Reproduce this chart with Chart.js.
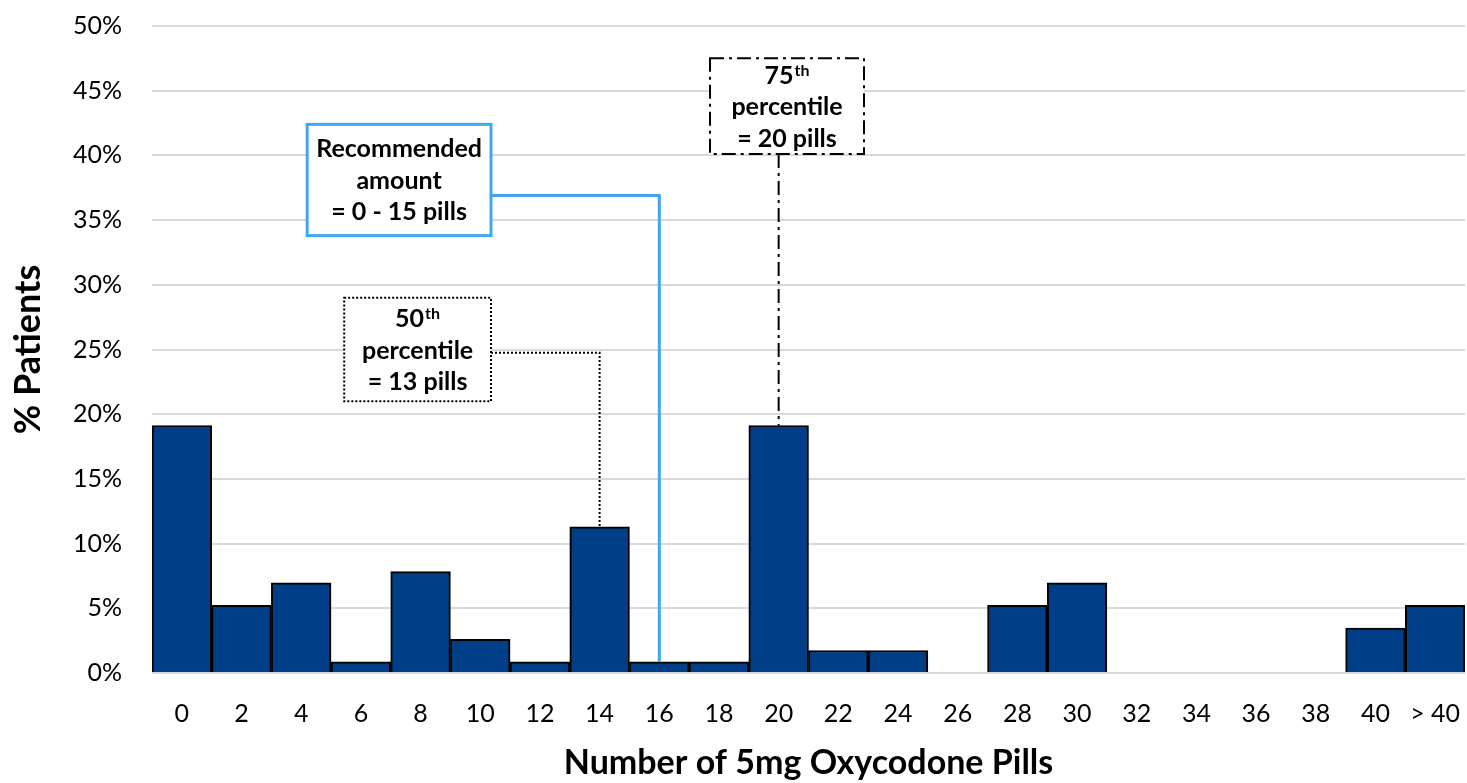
<!DOCTYPE html>
<html>
<head>
<meta charset="utf-8">
<script src="https://cdn.jsdelivr.net/npm/chart.js@4.4.1/dist/chart.umd.min.js"></script>
<style>
  html, body { margin: 0; padding: 0; background: #fff; }
  #wrap { width: 1467px; height: 783px; position: relative; }
</style>
</head>
<body>
<div id="wrap"><canvas id="hist"></canvas></div>
<script>
// Pills prescribed (bins of 2) vs share of patients.
const categories = ["0", "2", "4", "6", "8", "10", "12", "14", "16", "18", "20",
                    "22", "24", "26", "28", "30", "32", "34", "36", "38", "40", "> 40"];
const patientPct = [19.13, 5.22, 6.96, 0.87, 7.83, 2.61, 0.87, 11.30, 0.87, 0.87, 19.13,
                    1.74, 1.74, 0, 5.22, 6.96, 0, 0, 0, 0, 3.48, 5.22];
const yMax = 50, yStep = 5;
const xTitle = "Number of 5mg Oxycodone Pills";
const yTitle = "% Patients";

// Callout texts: each line is [main, superscript]
const calloutText = [
  [["Recommended", ""], ["amount", ""], ["= 0 - 15 pills", ""]],
  [["50", "th"], ["percentile", ""], ["= 13 pills", ""]],
  [["75", "th"], ["percentile", ""], ["= 20 pills", ""]],
];

// Where the callouts sit, in axis units (x = category index, y = %), and how they look.
const calloutLayout = [
  { box: [2.1, 5.18, 42.4, 33.8], leaderY: 36.9, target: 8, color: "#41A6EE", width: 3, dash: [] },
  { box: [2.72, 5.18, 29.0, 21.0], leaderY: 24.75, target: 7, color: "#000", width: 2, dash: [2, 2] },
  { box: [8.85, 11.43, 47.5, 40.1], leaderY: null, target: 10, color: "#000", width: 2, dash: [14, 5, 3, 5] },
];

const FONT = "Lato";

const callouts = {
  id: "callouts",
  afterDatasetsDraw(chart) {
    const { ctx, scales: { x, y } } = chart;
    calloutLayout.forEach((c, i) => {
      const x0 = x.getPixelForValue(c.box[0]), x1 = x.getPixelForValue(c.box[1]);
      const y0 = y.getPixelForValue(c.box[2]), y1 = y.getPixelForValue(c.box[3]);
      const tx = x.getPixelForValue(c.target);
      const ty = y.getPixelForValue(patientPct[c.target]);

      ctx.save();
      ctx.strokeStyle = c.color;
      ctx.lineWidth = c.width;
      ctx.setLineDash(c.dash);
      ctx.beginPath();
      if (c.leaderY != null) {
        const ly = y.getPixelForValue(c.leaderY);
        ctx.moveTo(x1, ly);
        ctx.lineTo(tx, ly);
        ctx.lineTo(tx, ty);
      } else {
        ctx.moveTo(tx, y1);
        ctx.lineTo(tx, ty);
      }
      ctx.stroke();

      ctx.fillStyle = "#fff";
      ctx.fillRect(x0, y0, x1 - x0, y1 - y0);
      ctx.strokeRect(x0, y0, x1 - x0, y1 - y0);

      // text, centred in the box
      ctx.setLineDash([]);
      ctx.fillStyle = "#000";
      ctx.textBaseline = "alphabetic";
      ctx.textAlign = "left";
      const cx = (x0 + x1) / 2, cy = (y0 + y1) / 2;
      calloutText[i].forEach(([main, sup], k) => {
        const by = cy + 9 + (k - 1) * 31.5;
        ctx.font = `bold 25px ${FONT}`;
        const wm = ctx.measureText(main).width;
        ctx.font = `bold 16px ${FONT}`;
        const ws = sup ? ctx.measureText(sup).width + 1 : 0;
        const sx = cx - (wm + ws) / 2;
        ctx.font = `bold 25px ${FONT}`;
        ctx.fillText(main, sx, by);
        if (sup) {
          ctx.font = `bold 16px ${FONT}`;
          ctx.fillText(sup, sx + wm + 1, by - 8);
        }
      });
      ctx.restore();
    });
  }
};

// keep the plot area fixed: no extra room for overhanging tick labels
const noOverhang = s => { s.paddingLeft = 0; s.paddingRight = 0; s.paddingTop = 0; s.paddingBottom = 0; };

new Chart(document.getElementById("hist"), {
  type: "bar",
  data: {
    labels: categories,
    datasets: [{
      data: patientPct,
      backgroundColor: "#003F87",
      borderColor: "#000",
      borderWidth: 2,
      barPercentage: 1,
      categoryPercentage: 1,
    }]
  },
  options: {
    responsive: true, maintainAspectRatio: false,
    animation: false,
    layout: { padding: { top: 26, right: 2, left: 0, bottom: 0 } },
    plugins: { legend: { display: false }, tooltip: { enabled: false } },
    scales: {
      x: {
        grid: { display: false, drawTicks: false },
        border: { display: false },
        ticks: { color: "#000", font: { family: FONT, size: 25 }, padding: 26, maxRotation: 0, autoSkip: false },
        title: { display: true, text: xTitle, color: "#000",
                 font: { family: FONT, size: 34, weight: "bold" }, padding: { top: 0, bottom: 0 } },
        afterFit: s => { s.height = 110; noOverhang(s); }
      },
      y: {
        min: 0, max: yMax,
        grid: { color: "#d9d9d9", lineWidth: 2, drawTicks: false },
        border: { display: false },
        ticks: { stepSize: yStep, color: "#000", font: { family: FONT, size: 25 }, padding: 30,
                 callback: v => v + "%" },
        title: { display: true, text: yTitle, color: "#000",
                 font: { family: FONT, size: 36, weight: "bold" }, padding: { top: 7, bottom: 0 } },
        afterFit: s => { s.width = 152; noOverhang(s); }
      }
    }
  },
  plugins: [callouts]
});
</script>
</body>
</html>
